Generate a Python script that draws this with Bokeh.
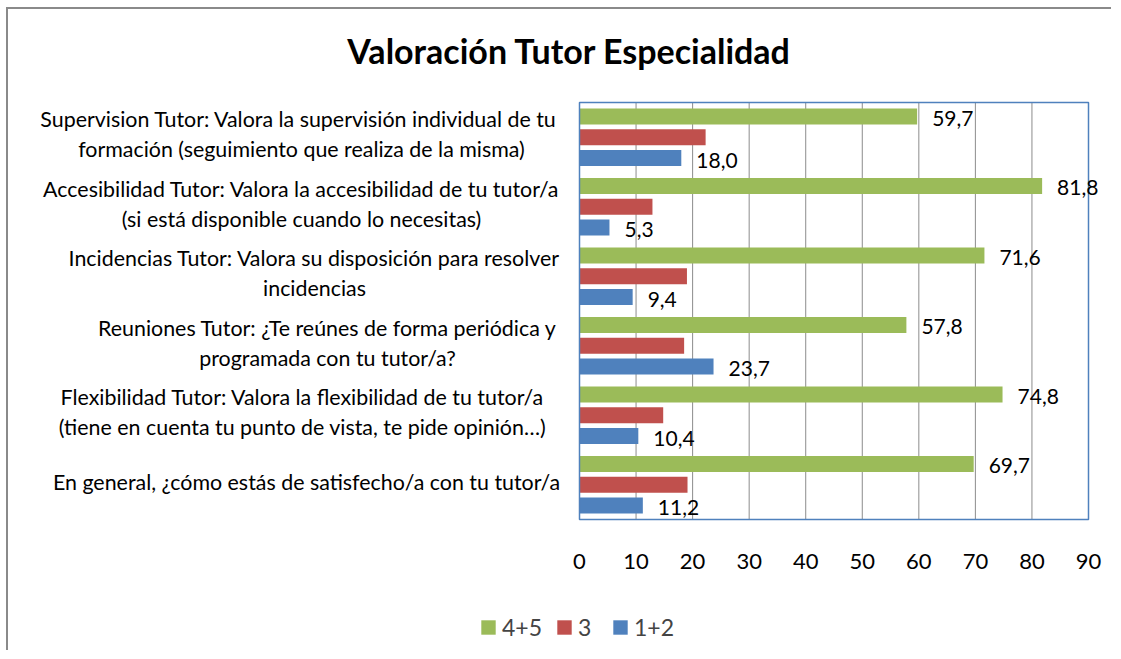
from bokeh.plotting import figure
from bokeh.models import Range1d, LabelSet, ColumnDataSource, Legend, LegendItem, FixedTicker
from bokeh.core.properties import value
from bokeh.embed import file_html
from bokeh.resources import INLINE

# ---- data ----
categories = [
    ["Supervision Tutor:  Valora la supervisión individual de tu", "formación (seguimiento que realiza de la misma)"],
    ["Accesibilidad Tutor: Valora la accesibilidad de tu tutor/a", "(si está disponible cuando lo necesitas)"],
    ["Incidencias Tutor: Valora su disposición para resolver", "incidencias"],
    ["Reuniones Tutor: ¿Te reúnes de forma periódica y", "programada con tu tutor/a?"],
    ["Flexibilidad Tutor: Valora la flexibilidad de tu tutor/a", "(tiene en cuenta tu punto de vista, te pide opinión…)"],
    ["En general, ¿cómo estás de satisfecho/a con tu tutor/a"],
]
series_names = ["4+5", "3", "1+2"]
v45 = [59.7, 81.8, 71.6, 57.8, 74.8, 69.7]
v3 = [22.3, 12.9, 19.0, 18.5, 14.8, 19.1]
v12 = [18.0, 5.3, 9.4, 23.7, 10.4, 11.2]
x_ticks = [0, 10, 20, 30, 40, 50, 60, 70, 80, 90]
title_text = "Valoración Tutor Especialidad"

# ---- layout (page pixels) ----
GREEN = "#9BBB59"
RED = "#C0504D"
BLUE = "#4F81BD"
GRID = "#8c8c8c"
FONT = "Lato"
W, H = 1105, 643
OX, OY = 8, 9                 # content origin on the page
PX0, PX1 = 579, 1088          # plot area x: value 0 and 90
PY_TOP, PY_BOT = 102, 519     # plot area y
XMAX = 90
n = len(categories)
kx = (PX1 - PX0) / XMAX
ky = (PY_BOT - PY_TOP) / n
x_start = (OX - PX0) / kx
x_end = (OX + W - PX0) / kx
y_end = n + (PY_TOP - OY) / ky
y_start = -(OY + H - PY_BOT) / ky
label_center_px = [301, 301, 314, 327, 302, 306]

centers = [n - i - 0.5 for i in range(n)]
offsets = [0.3, 0.0, -0.3]
bar_h = 0.23

p = figure(width=W, height=H, x_range=Range1d(x_start, x_end), y_range=Range1d(y_start, y_end),
           output_backend="svg", toolbar_location=None, y_axis_location=None,
           min_border=0)
p.styles = {"border-left": "2px solid #8a8a8a", "border-top": "2px solid #8a8a8a",
            "margin-left": "6px", "margin-top": "7px"}
p.background_fill_color = "white"
p.border_fill_color = "white"
p.outline_line_color = None
p.xgrid.visible = False
p.ygrid.visible = False
p.xaxis.fixed_location = 0
p.xaxis.ticker = FixedTicker(ticks=x_ticks)
p.xaxis.axis_line_color = None
p.xaxis.major_tick_line_color = None
p.xaxis.minor_tick_line_color = None
p.xaxis.major_tick_out = 0
p.xaxis.major_tick_in = 0
p.xaxis.major_label_standoff = 34
p.xaxis.major_label_text_font = FONT
p.xaxis.major_label_text_font_size = "22px"
p.xaxis.major_label_text_color = "black"

# vertical gridlines inside the plot area
p.segment(x0=x_ticks, x1=x_ticks, y0=[0] * len(x_ticks), y1=[n] * len(x_ticks),
          line_color=GRID, line_width=1)

renderers = []
for vals, off, col in [(v45, offsets[0], GREEN), (v3, offsets[1], RED), (v12, offsets[2], BLUE)]:
    ys = [c + off for c in centers]
    src = ColumnDataSource(dict(y=ys, right=vals))
    r = p.hbar(y="y", right="right", left=0, height=bar_h, source=src,
               fill_color=col, line_color=None)
    renderers.append(r)

# plot-area border
p.quad(left=[0], right=[XMAX], bottom=[0], top=[n], fill_color=None, line_color=BLUE, line_width=1.5)

# data labels (green and blue only)
for vals, off in [(v45, offsets[0]), (v12, offsets[2])]:
    ys = [c + off for c in centers]
    src = ColumnDataSource(dict(x=vals, y=ys, t=[f"{v:.1f}".replace(".", ",") for v in vals]))
    p.add_layout(LabelSet(x="x", y="y", text="t", source=src, x_offset=15, y_offset=-2,
                          text_baseline="middle", text_align="left",
                          text_font=value(FONT), text_font_size=value("21px"), text_color="black"))

# category labels
lx, ly, lt, lo = [], [], [], []
for i, lines in enumerate(categories):
    k = len(lines)
    for j, line in enumerate(lines):
        lx.append((label_center_px[i] - PX0) / kx)
        ly.append(centers[i])
        lt.append(line)
        lo.append((j - (k - 1) / 2) * 30 - 3)
p.text(x=lx, y=ly, text=lt, y_offset=lo, text_align="center", text_baseline="middle",
       text_font=value(FONT), text_font_size="21.4px", text_color="black")

# title
p.text(x=[(569 - PX0) / kx], y=[n + (PY_TOP - 50) / ky], text=[title_text],
       text_align="center", text_baseline="middle", text_font=value(FONT),
       text_font_size="34px", text_font_style="bold", text_color="black")

legend = Legend(items=[LegendItem(label=nm, renderers=[r]) for nm, r in zip(series_names, renderers)],
                orientation="horizontal", location=(479 - OX, OY + H - 641))
legend.border_line_color = None
legend.background_fill_alpha = 0
legend.label_text_font = FONT
legend.label_text_font_size = "23px"
legend.glyph_width = 18
legend.glyph_height = 18
legend.spacing = 13
legend.label_standoff = 5
legend.padding = 0
legend.margin = 0
p.add_layout(legend)

open("out.html", "w").write(file_html(p, INLINE))
